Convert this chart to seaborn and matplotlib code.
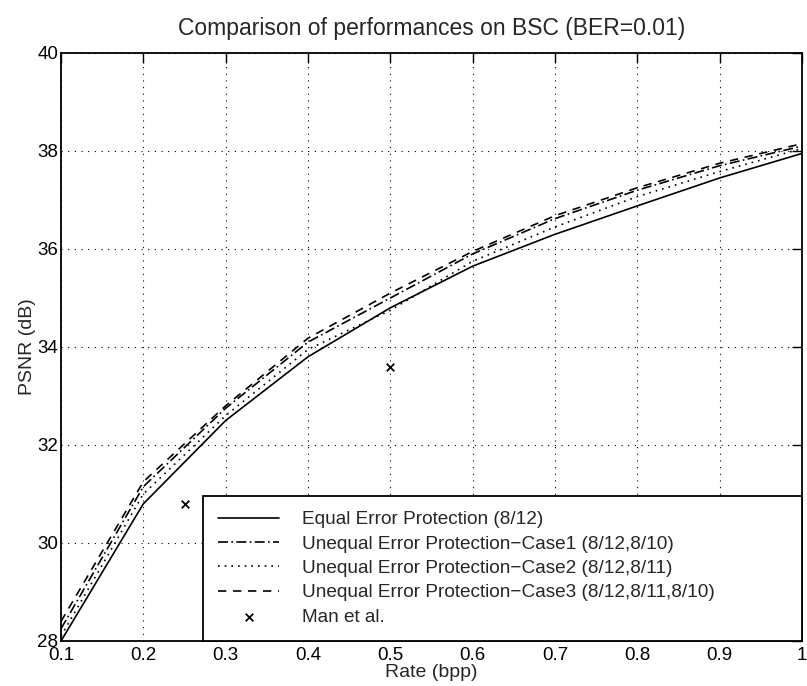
import matplotlib
matplotlib.use("Agg")
import matplotlib.pyplot as plt
import seaborn as sns
import pandas as pd

sns.set_style("white")
plt.rcParams['font.family'] = ['Liberation Sans', 'DejaVu Sans']

rate = [0.1, 0.2, 0.3, 0.4, 0.5, 0.6, 0.7, 0.8, 0.9, 1.0]
eep = [28.0, 30.8, 32.5, 33.8, 34.8, 35.65, 36.3, 36.88, 37.45, 37.95]
uep1 = [28.25, 31.15, 32.75, 34.1, 35.0, 35.9, 36.62, 37.2, 37.7, 38.1]
uep2 = [28.1, 31.0, 32.6, 33.95, 34.75, 35.75, 36.45, 37.07, 37.58, 38.05]
uep3 = [28.4, 31.25, 32.8, 34.18, 35.1, 35.95, 36.68, 37.25, 37.75, 38.15]
man_rate = [0.25, 0.5]
man_psnr = [30.8, 33.6]

labels = ["Equal Error Protection (8/12)",
          "Unequal Error Protection\u2212Case1 (8/12,8/10)",
          "Unequal Error Protection\u2212Case2 (8/12,8/11)",
          "Unequal Error Protection\u2212Case3 (8/12,8/11,8/10)",
          "Man et al."]

fig = plt.figure(figsize=(8.07, 6.86), dpi=100)
ax = fig.add_axes([61/807, 45/686, 741/807, 588/686])

series = [eep, uep1, uep2, uep3]
styles = ['-', (0, (6, 2, 1, 2)), (0, (1, 3)), (0, (5, 4))]
for vals, ls, lab in zip(series, styles, labels[:4]):
    df = pd.DataFrame({"rate": rate, "psnr": vals})
    sns.lineplot(data=df, x="rate", y="psnr", ax=ax, color='black',
                 linestyle=ls, linewidth=1.2, label=lab)
mdf = pd.DataFrame({"rate": man_rate, "psnr": man_psnr})
sns.scatterplot(data=mdf, x="rate", y="psnr", ax=ax, marker='x', color='black',
                s=30, linewidth=1.3, label=labels[4])

ax.set_xlim(0.1, 1.0)
ax.set_ylim(28, 40)
ax.set_xticks([0.1, 0.2, 0.3, 0.4, 0.5, 0.6, 0.7, 0.8, 0.9, 1.0])
ax.set_xticklabels(['0.1', '0.2', '0.3', '0.4', '0.5', '0.6', '0.7', '0.8', '0.9', '1'])
ax.set_yticks([28, 30, 32, 34, 36, 38, 40])
ax.grid(True, color='black', linestyle=(0, (1, 5)), linewidth=0.8)
ax.tick_params(direction='in', length=7, width=1, top=True, right=True,
               labelsize=13.5, colors='black')
ax.tick_params(axis='x', pad=4)
ax.tick_params(axis='y', pad=2)
for s in ax.spines.values():
    s.set_color('black')
    s.set_linewidth(1.3)
ax.set_xlabel("Rate (bpp)", fontsize=14, labelpad=0)
ax.set_ylabel("PSNR (dB)", fontsize=14, labelpad=1)
ax.set_title("Comparison of performances on BSC (BER=0.01)", fontsize=16.5, pad=13)

x0 = (203 - 61) / 741
leg = ax.legend(loc='lower left', bbox_to_anchor=(x0, 0, 1 - x0, 0.2), mode='expand',
                fontsize=13.7, frameon=True, fancybox=False,
                edgecolor='black', framealpha=1, handlelength=3.2, handletextpad=1.2,
                borderaxespad=0, labelspacing=0.37, borderpad=0.8)
leg.get_frame().set_linewidth(1.3)

fig.savefig("out.png", dpi=100)
